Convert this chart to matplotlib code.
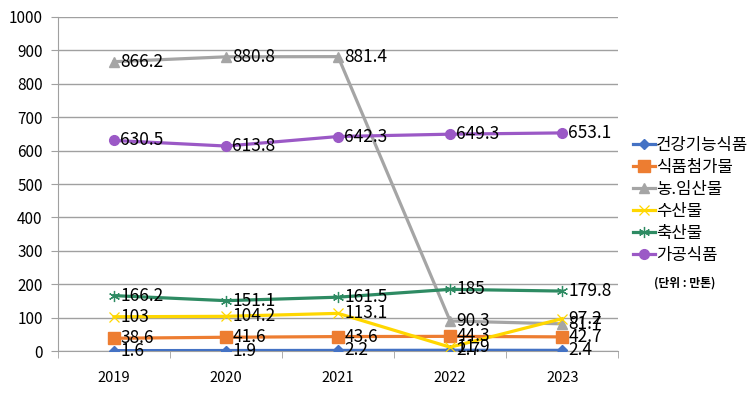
import numpy as np
import matplotlib.pyplot as plt

plt.rcParams['font.family'] = ['Noto Sans CJK KR', 'DejaVu Sans']

years = ['2019', '2020', '2021', '2022', '2023']
names = ['건강기능식품', '식품첨가물', '농.임산물', '수산물', '축산물', '가공식품']
health = [1.6, 1.9, 2.2, 2.7, 2.4]
additive = [38.6, 41.6, 43.6, 44.3, 42.7]
farm = [866.2, 880.8, 881.4, 90.3, 81.7]
fish = [103, 104.2, 113.1, 11.9, 97.2]
livestock = [166.2, 151.1, 161.5, 185, 179.8]
processed = [630.5, 613.8, 642.3, 649.3, 653.1]

series = [health, additive, farm, fish, livestock, processed]
colors = ['#4472C4', '#ED7D31', '#A5A5A5', '#FFD700', '#2E8B63', '#9B59C6']
markers = ['D', 's', '^', 'x', '*', 'o']
msizes = [5, 8, 7, 7, 8, 7]

fig = plt.figure(figsize=(7.5, 3.95), dpi=100)
ax = fig.add_axes([0.0773, 0.111, 0.747, 0.846])

x = np.arange(len(years))
for vals, name, c, m, ms in zip(series, names, colors, markers, msizes):
    if m == '*':
        ax.plot(x, vals, color=c, lw=2.3, zorder=3, label=name,
                marker=(6, 2, 0), ms=ms, mew=0.9, mfc=c, mec=c)
    elif m == 'x':
        ax.plot(x, vals, color=c, lw=2.3, zorder=3, label=name,
                marker='x', ms=ms, mew=0.9)
    else:
        ax.plot(x, vals, color=c, lw=2.3, zorder=3, label=name,
                marker=m, ms=ms, mec=c)
    for xi, v in zip(x, vals):
        ax.text(xi + 0.055, v, f'{v:g}', fontsize=12.5, va='center',
                ha='left', color='black', zorder=4)

ax.set_xlim(-0.5, 4.5)
ax.set_ylim(0, 1000)
ax.set_yticks(np.arange(0, 1001, 100))
ax.set_xticks(x)
ax.set_xticklabels(years)
ax.set_xticks(np.arange(-0.5, 4.6, 1), minor=True)
ax.tick_params(axis='x', which='major', length=0, labelsize=10.5, pad=14)
ax.tick_params(axis='x', which='minor', length=5, color='#A0A0A0')
ax.tick_params(axis='y', length=5, color='#A0A0A0', labelsize=11, pad=6)
ax.grid(axis='y', color='#A0A0A0', lw=1)
ax.set_axisbelow(True)
for s in ['top', 'right']:
    ax.spines[s].set_visible(False)
ax.spines['left'].set_color('#A0A0A0')
ax.spines['bottom'].set_color('#A0A0A0')

leg = fig.legend(loc='upper left', bbox_to_anchor=(0.835, 0.67), frameon=False,
                 fontsize=12, handlelength=1.3, handletextpad=0.1,
                 labelspacing=0.3, borderaxespad=0)
fig.text(0.913, 0.283, '(단위 : 만톤)', fontsize=8.5, fontweight='bold',
         ha='center', va='center')

fig.savefig('out.png', dpi=100)
